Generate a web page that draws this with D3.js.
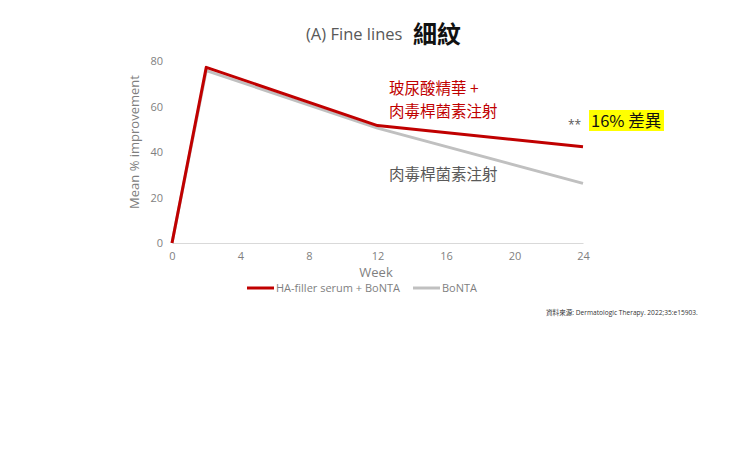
<!DOCTYPE html>
<html>
<head>
<meta charset="utf-8">
<script src="https://cdn.jsdelivr.net/npm/d3@7"></script>
<style>
  body { margin: 0; background: #fff; }
  svg { display: block; }
  text { font-family: "Open Sans", "Noto Sans CJK TC", sans-serif; }
  .cjk { font-family: "Noto Sans CJK TC", sans-serif; }
</style>
</head>
<body>
<div id="chart"></div>
<script>
// 数据
const weeks = [0, 2, 12, 24];
const comboValues = [0, 77.2, 51.6, 42.3];   // HA-filler serum + BoNTA
const bontaValues = [0, 75.8, 50.5, 26.2];   // BoNTA
const xTicks = [0, 4, 8, 12, 16, 20, 24];
const yTicks = [0, 20, 40, 60, 80];
const seriesNames = ['HA-filler serum + BoNTA', 'BoNTA'];
const seriesColors = ['#c00000', '#c0c0c0'];

const W = 740, H = 463;
const svg = d3.select('#chart').append('svg').attr('width', W).attr('height', H);

// 比例尺
const x = d3.scaleLinear().domain([0, 24]).range([172, 583]);
const y = d3.scaleLinear().domain([0, 80]).range([243, 61]);

// 标题
svg.append('text').attr('x', 306).attr('y', 40)
  .style('font-size', '16.5px').style('fill', '#595959')
  .text('(A) Fine lines');
svg.append('text').attr('class', 'cjk').attr('x', 413).attr('y', 43)
  .style('font-size', '24px').style('font-weight', 'bold').style('fill', '#111')
  .text('細紋');

// x轴
const xAxis = svg.append('g').attr('transform', `translate(0,${y(0)})`)
  .call(d3.axisBottom(x).tickValues(xTicks).tickSize(0).tickPadding(9));
xAxis.select('.domain').attr('stroke', '#d9d9d9');
xAxis.selectAll('text').style('font-size', '11px').style('fill', '#7f7f7f');

// y轴
const yAxis = svg.append('g').attr('transform', `translate(${x(0) - 9},0)`)
  .call(d3.axisLeft(y).tickValues(yTicks).tickSize(0).tickPadding(0));
yAxis.select('.domain').remove();
yAxis.selectAll('text').style('font-size', '11px').style('fill', '#7f7f7f');

// 轴标题
svg.append('text').attr('x', 376).attr('y', 277)
  .attr('text-anchor', 'middle')
  .style('font-size', '13px').style('fill', '#7f7f7f')
  .text('Week');
svg.append('text')
  .attr('transform', 'translate(139,142) rotate(-90)')
  .attr('text-anchor', 'middle')
  .style('font-size', '13px').style('fill', '#7f7f7f')
  .text('Mean % improvement');

// 折线
const line = d3.line()
  .x((d, i) => x(weeks[i]))
  .y(d => y(d));
svg.append('path').datum(bontaValues)
  .attr('d', line).attr('fill', 'none')
  .attr('stroke', seriesColors[1]).attr('stroke-width', 3)
  .attr('stroke-linejoin', 'round');
svg.append('path').datum(comboValues)
  .attr('d', line).attr('fill', 'none')
  .attr('stroke', seriesColors[0]).attr('stroke-width', 3)
  .attr('stroke-linejoin', 'round');

// 图例
const legendX = [247, 413];
seriesNames.forEach((name, i) => {
  const g = svg.append('g').attr('transform', `translate(${legendX[i]},288)`);
  g.append('line').attr('x1', 0).attr('x2', 27)
    .attr('stroke', seriesColors[i]).attr('stroke-width', 3);
  g.append('text').attr('x', 29).attr('dy', '0.35em')
    .style('font-size', '11px').style('fill', '#7f7f7f')
    .text(name);
});

// 注释
const redLabel = svg.append('text').attr('class', 'cjk')
  .style('font-size', '15.5px').style('fill', '#c00000');
redLabel.append('tspan').attr('x', 389).attr('y', 94).text('玻尿酸精華 +');
redLabel.append('tspan').attr('x', 389).attr('y', 117).text('肉毒桿菌素注射');

svg.append('text').attr('class', 'cjk').attr('x', 389).attr('y', 180)
  .style('font-size', '15.5px').style('fill', '#595959')
  .text('肉毒桿菌素注射');

svg.append('text').attr('x', 568).attr('y', 129)
  .style('font-size', '12px').style('fill', '#595959')
  .text('**');

svg.append('rect').attr('x', 589).attr('y', 110).attr('width', 75).attr('height', 21)
  .attr('fill', '#ffff00');
svg.append('text').attr('class', 'cjk').attr('x', 591).attr('y', 127)
  .style('font-size', '16.5px').style('fill', '#111')
  .text('16% 差異');

// 资料来源
svg.append('text').attr('x', 546).attr('y', 315)
  .style('font-size', '6.6px').style('fill', '#333')
  .text('資料來源: Dermatologic Therapy. 2022;35:e15903.');
</script>
</body>
</html>
